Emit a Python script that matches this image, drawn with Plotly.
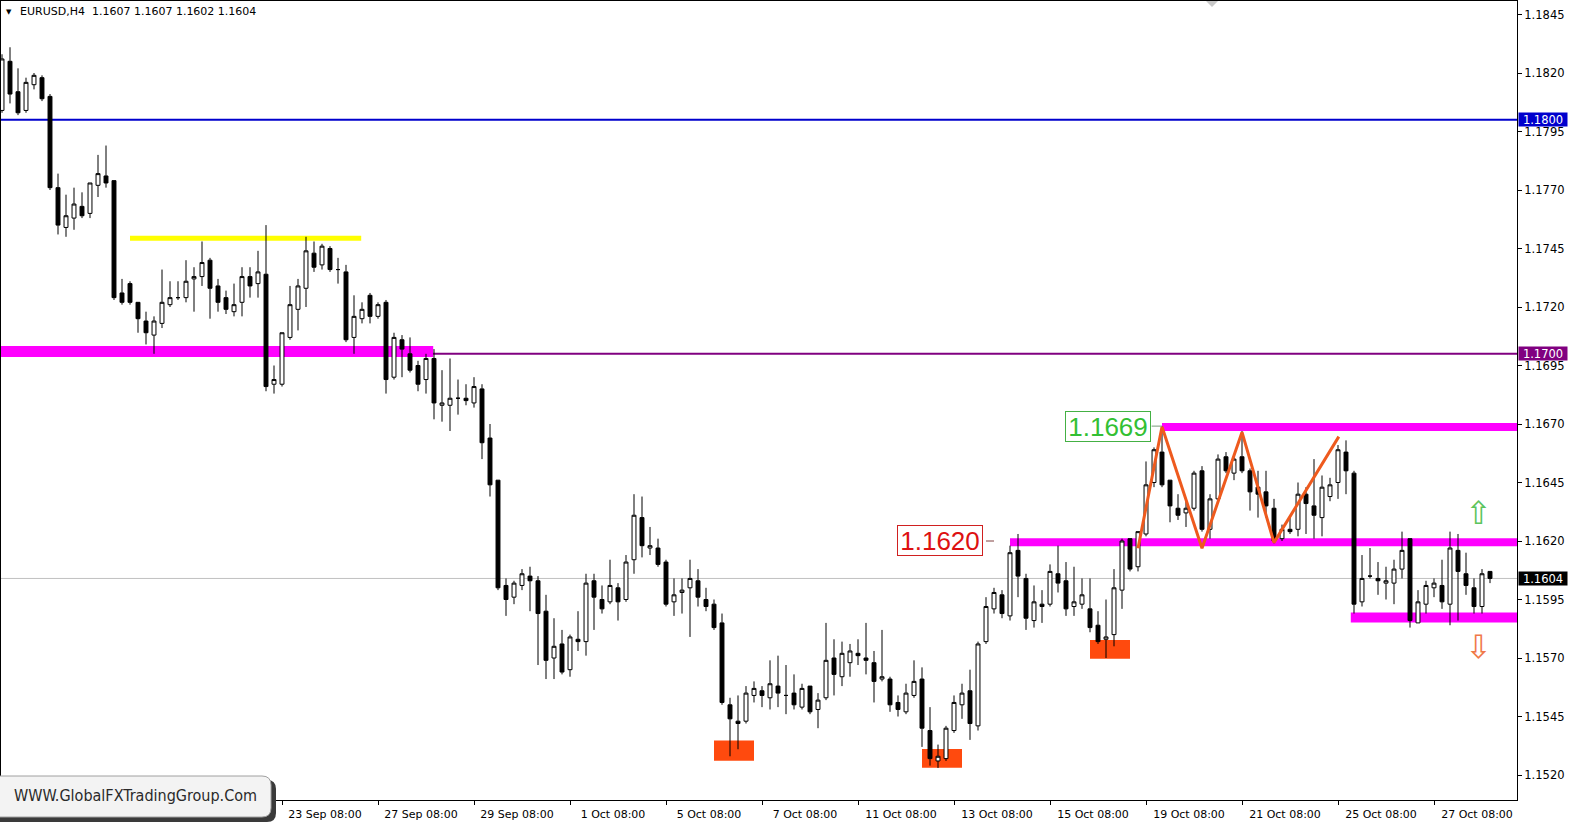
import plotly.graph_objects as go
import pandas as pd

# ---------------- data ----------------
header_text = "EURUSD,H4\u00a0\u00a01.1607 1.1607 1.1602 1.1604"
first_bar_time = "2021-09-15 12:00"

opens = [1.1804, 1.1825, 1.1812, 1.1804, 1.1815, 1.1818, 1.1810, 1.1771, 1.1754, 1.1758,
         1.1763, 1.1760, 1.1772, 1.1776, 1.1774, 1.1726, 1.1730, 1.1722, 1.1714, 1.1708,
         1.1713, 1.1721, 1.1724, 1.1724, 1.1732, 1.1733, 1.1740, 1.1729, 1.1724, 1.1718,
         1.1722, 1.1733, 1.1730, 1.1734, 1.1687, 1.1687, 1.1707, 1.1719, 1.1728, 1.1743,
         1.1738, 1.1745, 1.1736, 1.1735, 1.1707, 1.1715, 1.1725, 1.1716, 1.1722, 1.1690,
         1.1706, 1.1700, 1.1695, 1.1689, 1.1698, 1.1678, 1.1678, 1.1681, 1.1681, 1.1679,
         1.1685, 1.1664, 1.1646, 1.1601, 1.1596, 1.1601, 1.1605, 1.1603, 1.1590, 1.1570,
         1.1576, 1.1565, 1.1578, 1.1577, 1.1603, 1.1595, 1.1594, 1.1600, 1.1595, 1.1612,
         1.1630, 1.1617, 1.1617, 1.1611, 1.1594, 1.1598, 1.1600, 1.1603, 1.1595, 1.1593,
         1.1585, 1.1550, 1.1543, 1.1543, 1.1554, 1.1556, 1.1553, 1.1558, 1.1554, 1.1555,
         1.1549, 1.1558, 1.1548, 1.1553, 1.1570, 1.1562, 1.1568, 1.1572, 1.1570, 1.1568,
         1.1561, 1.1561, 1.1551, 1.1547, 1.1554, 1.1561, 1.1539, 1.1526, 1.1527, 1.1539,
         1.1550, 1.1556, 1.1541, 1.1577, 1.1591, 1.1597, 1.1588, 1.1616, 1.1604, 1.1586,
         1.1593, 1.1593, 1.1606, 1.1603, 1.1592, 1.1593, 1.1591, 1.1584, 1.1578, 1.1580,
         1.1599, 1.1621, 1.1609, 1.1623, 1.1645, 1.1658, 1.1646, 1.1634, 1.1632, 1.1634,
         1.1650, 1.1625, 1.1638, 1.1656, 1.1649, 1.1656, 1.1650, 1.1643, 1.1641, 1.1634,
         1.1621, 1.1625, 1.1625, 1.1640, 1.1635, 1.1630, 1.1639, 1.1645, 1.1658, 1.1649,
         1.1594, 1.1605, 1.1604, 1.1602, 1.1602, 1.1608, 1.1621, 1.1585, 1.1593, 1.1600,
         1.1601, 1.1593, 1.1616, 1.1606, 1.1600, 1.1592, 1.1607]
highs = [1.1828, 1.1831, 1.1822, 1.1818, 1.1820, 1.1819, 1.1811, 1.1777, 1.1768, 1.1771,
         1.1769, 1.1773, 1.1785, 1.1789, 1.1774, 1.1732, 1.1731, 1.1722, 1.1718, 1.1716,
         1.1736, 1.1731, 1.1731, 1.1740, 1.1737, 1.1748, 1.1741, 1.1732, 1.1727, 1.1730,
         1.1737, 1.1737, 1.1744, 1.1755, 1.1695, 1.1709, 1.1729, 1.1732, 1.1750, 1.1748,
         1.1747, 1.1746, 1.1741, 1.1738, 1.1725, 1.1722, 1.1726, 1.1722, 1.1723, 1.1709,
         1.1708, 1.1707, 1.1697, 1.1700, 1.1702, 1.1693, 1.1698, 1.1689, 1.1687, 1.1690,
         1.1687, 1.1670, 1.1646, 1.1604, 1.1603, 1.1608, 1.1609, 1.1605, 1.1597, 1.1587,
         1.1582, 1.1580, 1.1590, 1.1606, 1.1606, 1.1601, 1.1612, 1.1602, 1.1614, 1.1640,
         1.1639, 1.1626, 1.1621, 1.1612, 1.1604, 1.1604, 1.1612, 1.1608, 1.1600, 1.1595,
         1.1589, 1.1553, 1.1554, 1.1558, 1.1560, 1.1558, 1.1569, 1.1571, 1.1567, 1.1563,
         1.1559, 1.1558, 1.1555, 1.1585, 1.1578, 1.1577, 1.1576, 1.1578, 1.1585, 1.1573,
         1.1582, 1.1562, 1.1554, 1.1559, 1.1569, 1.1566, 1.1549, 1.1533, 1.1541, 1.1554,
         1.1559, 1.1565, 1.1577, 1.1596, 1.1600, 1.1599, 1.1618, 1.1623, 1.1606, 1.1601,
         1.1599, 1.1610, 1.1618, 1.1611, 1.1609, 1.1604, 1.1604, 1.1590, 1.1595, 1.1608,
         1.1621, 1.1621, 1.1624, 1.1654, 1.1660, 1.1669, 1.1646, 1.1640, 1.1637, 1.1650,
         1.1652, 1.1640, 1.1657, 1.1658, 1.1657, 1.1667, 1.1651, 1.1650, 1.1650, 1.1638,
         1.1627, 1.1631, 1.1645, 1.1643, 1.1655, 1.1648, 1.1647, 1.1661, 1.1663, 1.1650,
         1.1614, 1.1617, 1.1611, 1.1609, 1.1612, 1.1624, 1.1621, 1.1599, 1.1603, 1.1604,
         1.1612, 1.1624, 1.1623, 1.1615, 1.1604, 1.1608, 1.1607]
lows = [1.1803, 1.1807, 1.1802, 1.1803, 1.1813, 1.1808, 1.1770, 1.1751, 1.1750, 1.1753,
        1.1758, 1.1758, 1.1767, 1.1771, 1.1723, 1.1721, 1.1721, 1.1709, 1.1704, 1.1700,
        1.1711, 1.1720, 1.1723, 1.1722, 1.1718, 1.1729, 1.1715, 1.1718, 1.1717, 1.1716,
        1.1716, 1.1724, 1.1724, 1.1684, 1.1683, 1.1686, 1.1706, 1.1710, 1.1720, 1.1735,
        1.1736, 1.1735, 1.1730, 1.1705, 1.1700, 1.1713, 1.1713, 1.1715, 1.1683, 1.1689,
        1.1690, 1.1692, 1.1684, 1.1683, 1.1672, 1.1671, 1.1667, 1.1674, 1.1678, 1.1677,
        1.1655, 1.1639, 1.1599, 1.1588, 1.1593, 1.1599, 1.1590, 1.1567, 1.1561, 1.1561,
        1.1563, 1.1562, 1.1573, 1.1571, 1.1582, 1.1589, 1.1593, 1.1586, 1.1594, 1.1606,
        1.1613, 1.1614, 1.1609, 1.1592, 1.1588, 1.1589, 1.1579, 1.1592, 1.1590, 1.1582,
        1.1550, 1.1528, 1.1531, 1.1542, 1.1551, 1.1549, 1.1548, 1.1549, 1.1546, 1.1548,
        1.1548, 1.1546, 1.1540, 1.1552, 1.1554, 1.1558, 1.1562, 1.1567, 1.1563, 1.1551,
        1.1560, 1.1547, 1.1545, 1.1546, 1.1553, 1.1532, 1.1524, 1.1523, 1.1526, 1.1538,
        1.1544, 1.1535, 1.1539, 1.1576, 1.1589, 1.1587, 1.1586, 1.1596, 1.1582, 1.1583,
        1.1585, 1.1592, 1.1598, 1.1588, 1.1588, 1.1591, 1.1581, 1.1576, 1.1570, 1.1575,
        1.1591, 1.1607, 1.1607, 1.1622, 1.1643, 1.1643, 1.1628, 1.1629, 1.1626, 1.1633,
        1.1624, 1.1621, 1.1637, 1.1649, 1.1646, 1.1649, 1.1633, 1.1630, 1.1630, 1.1619,
        1.1620, 1.1623, 1.1622, 1.1623, 1.1621, 1.1622, 1.1637, 1.1638, 1.1640, 1.1589,
        1.1592, 1.1604, 1.1597, 1.1595, 1.1593, 1.1604, 1.1583, 1.1585, 1.1589, 1.1596,
        1.1591, 1.1584, 1.1586, 1.1597, 1.1589, 1.1589, 1.1602]
closes = [1.1826, 1.1811, 1.1803, 1.1816, 1.1819, 1.1809, 1.1771, 1.1755, 1.1759, 1.1764,
          1.1759, 1.1773, 1.1777, 1.1773, 1.1724, 1.1722, 1.1722, 1.1715, 1.1709, 1.1714,
          1.1722, 1.1724, 1.1724, 1.1731, 1.1733, 1.1739, 1.1728, 1.1722, 1.1719, 1.1721,
          1.1733, 1.1729, 1.1735, 1.1686, 1.1689, 1.1709, 1.1721, 1.1729, 1.1744, 1.1737,
          1.1746, 1.1736, 1.1736, 1.1706, 1.1716, 1.1719, 1.1716, 1.1721, 1.1689, 1.1707,
          1.1702, 1.1693, 1.1687, 1.1698, 1.1679, 1.1679, 1.1681, 1.1681, 1.1680, 1.1686,
          1.1662, 1.1644, 1.1600, 1.1595, 1.1602, 1.1606, 1.1603, 1.1589, 1.1569, 1.1575,
          1.1564, 1.1579, 1.1577, 1.1602, 1.1596, 1.1591, 1.1601, 1.1594, 1.1611, 1.1631,
          1.1618, 1.1618, 1.1610, 1.1593, 1.1597, 1.1599, 1.1604, 1.1596, 1.1592, 1.1583,
          1.1551, 1.1544, 1.1542, 1.1555, 1.1557, 1.1554, 1.1559, 1.1555, 1.1554, 1.1550,
          1.1557, 1.1547, 1.1552, 1.1569, 1.1563, 1.1572, 1.1573, 1.1571, 1.1569, 1.1560,
          1.1562, 1.1550, 1.1548, 1.1555, 1.1560, 1.1540, 1.1527, 1.1528, 1.1540, 1.1551,
          1.1555, 1.1542, 1.1576, 1.1592, 1.1598, 1.1589, 1.1615, 1.1605, 1.1587, 1.1594,
          1.1592, 1.1607, 1.1602, 1.1591, 1.1594, 1.1597, 1.1583, 1.1577, 1.1579, 1.1600,
          1.1620, 1.1608, 1.1624, 1.1644, 1.1659, 1.1644, 1.1635, 1.1631, 1.1634, 1.1649,
          1.1625, 1.1638, 1.1655, 1.1650, 1.1655, 1.1650, 1.1641, 1.1640, 1.1635, 1.1620,
          1.1625, 1.1624, 1.1640, 1.1636, 1.1631, 1.1643, 1.1644, 1.1659, 1.1650, 1.1593,
          1.1604, 1.1605, 1.1603, 1.1603, 1.1608, 1.1616, 1.1586, 1.1594, 1.1601, 1.1602,
          1.1594, 1.1617, 1.1607, 1.1601, 1.1592, 1.1606, 1.1604]

time_labels = ["23 Sep 08:00", "27 Sep 08:00", "29 Sep 08:00", "1 Oct 08:00",
               "5 Oct 08:00", "7 Oct 08:00", "11 Oct 08:00", "13 Oct 08:00",
               "15 Oct 08:00", "19 Oct 08:00", "21 Oct 08:00", "25 Oct 08:00",
               "27 Oct 08:00"]
price_ticks = [1.1520, 1.1545, 1.1570, 1.1595, 1.1620, 1.1645, 1.1670, 1.1695,
               1.1720, 1.1745, 1.1770, 1.1795, 1.1820, 1.1845]

level_blue = 1.1800
level_purple = 1.1700
last_price = 1.1604

# magenta zones: price, first bar, last bar
zone_prices = [1.17010, 1.16687, 1.16195, 1.15873]
zone_start = [-0.125, 145.0, 126.0, 168.6]
zone_end = [53.9, 189.4, 189.4, 189.4]
# yellow resistance segment
yellow_price = 1.17494
yellow_start, yellow_end = 16.0, 44.9
# orange boxes: bar from, bar to, low, high
box_x0 = [89.0, 115.0, 136.0]
box_x1 = [94.0, 120.0, 141.0]
box_lo = [1.15261, 1.15231, 1.15697]
box_hi = [1.15347, 1.15311, 1.15777]
# zigzag
zz_bars = [142.0, 145.0, 150.0, 155.0, 159.0, 167.1]
zz_prices = [1.16169, 1.16688, 1.16169, 1.16665, 1.16193, 1.16646]

# ---------------- build ----------------
n = len(opens)
times = []
t = pd.Timestamp(first_bar_time)
while len(times) < n:
    if t.weekday() < 5:
        times.append(t)
    t += pd.Timedelta(hours=4)
bar_label = [f"{tt.day} {tt.strftime('%b %H:%M')}" for tt in times]
tick_idx = [bar_label.index(lbl) for lbl in time_labels]
xs = list(range(n))

W, H = 1571, 822
ML, MR, MT, MB = 1, 54, 1, 22
PW, PH = W - ML - MR, H - MT - MB
X0, X1 = -0.125, -0.125 + PW / 8.0
PPU = 23400.0
Y1 = 1.1620 + (541 - MT) / PPU
Y0 = 1.1620 - (MT + PH - 541) / PPU


def px(x):
    return (x - ML) / PW


def py(y):
    return (MT + PH - y) / PH


fig = go.Figure()
fig.add_trace(go.Candlestick(
    x=xs, open=opens, high=highs, low=lows, close=closes,
    increasing=dict(line=dict(color="black", width=1), fillcolor="white"),
    decreasing=dict(line=dict(color="black", width=1), fillcolor="black"),
    whiskerwidth=0, showlegend=False, hoverinfo="skip"))

fig.add_trace(go.Scatter(x=zz_bars, y=zz_prices, mode="lines",
                         line=dict(color="#EE5A1E", width=3),
                         showlegend=False, hoverinfo="skip"))

shapes = []
shapes.append(dict(type="line", xref="paper", x0=0, x1=1, yref="y",
                   y0=last_price, y1=last_price,
                   line=dict(color="#C0C0C0", width=1), layer="below"))
for a, b, lo, hi in zip(box_x0, box_x1, box_lo, box_hi):
    shapes.append(dict(type="rect", xref="x", yref="y", x0=a, x1=b, y0=lo, y1=hi,
                       fillcolor="#FF4A0E", line=dict(width=0), layer="below"))
zone_w = [11, 8, 8, 10]
for p, a, b, w in zip(zone_prices, zone_start, zone_end, zone_w):
    shapes.append(dict(type="line", xref="x", yref="y", x0=a, x1=b, y0=p, y1=p,
                       line=dict(color="#FF00FF", width=w), layer="below"))
shapes.append(dict(type="line", xref="x", yref="y", x0=yellow_start, x1=yellow_end,
                   y0=yellow_price, y1=yellow_price,
                   line=dict(color="#FFFF00", width=5), layer="below"))
shapes.append(dict(type="line", xref="paper", x0=0, x1=1, yref="y",
                   y0=level_blue, y1=level_blue,
                   line=dict(color="#0000CD", width=2), layer="below"))
shapes.append(dict(type="line", xref="paper", x0=0, x1=1, yref="y",
                   y0=level_purple, y1=level_purple,
                   line=dict(color="#800080", width=2), layer="below"))
shapes.append(dict(type="line", xref="x", yref="y", x0=143.7, x1=145.0,
                   y0=1.16691, y1=1.16691, line=dict(color="#7A9A7A", width=1)))
shapes.append(dict(type="line", xref="x", yref="y", x0=123.0, x1=124.0,
                   y0=1.16200, y1=1.16200, line=dict(color="#804040", width=1)))
shapes.append(dict(type="path", xref="paper", yref="paper",
                   path=f"M {px(1206)},{py(1)} L {px(1218)},{py(1)} L {px(1212)},{py(7)} Z",
                   fillcolor="#C8C8C8", line=dict(width=0), layer="above"))


def rounded(x0, y0, x1, y1, r):
    return (f"M {px(x0)},{py(y0)} L {px(x1 - r)},{py(y0)} "
            f"Q {px(x1)},{py(y0)} {px(x1)},{py(y0 + r)} "
            f"L {px(x1)},{py(y1 - r)} Q {px(x1)},{py(y1)} {px(x1 - r)},{py(y1)} "
            f"L {px(x0)},{py(y1)} Z")


shapes.append(dict(type="path", xref="paper", yref="paper",
                   path=rounded(-4, 780, 276, 822, 9),
                   fillcolor="#3A3A3A", line=dict(width=0), layer="above"))
shapes.append(dict(type="path", xref="paper", yref="paper",
                   path=rounded(-4, 776, 271, 817, 9),
                   fillcolor="#F3F3F3", line=dict(color="#A0A0A0", width=1), layer="above"))

annotations = []
annotations.append(dict(xref="paper", yref="paper", x=px(4), y=py(12), xanchor="left",
                        yanchor="middle", text="\u25BC", showarrow=False,
                        font=dict(family="DejaVu Sans", size=7, color="black")))
annotations.append(dict(xref="paper", yref="paper", x=px(18), y=py(12), xanchor="left",
                        yanchor="middle", text=header_text, showarrow=False,
                        font=dict(family="DejaVu Sans", size=11, color="black")))
for p, bg in [(level_blue, "#0000CD"), (level_purple, "#800080"), (last_price, "#000000")]:
    annotations.append(dict(xref="paper", yref="y", x=1, y=p, xanchor="left",
                            yanchor="middle", text=f"{p:.4f}", showarrow=False,
                            bgcolor=bg, width=48, height=13, borderpad=0, xshift=1,
                            font=dict(family="DejaVu Sans", size=11.5, color="white")))
annotations.append(dict(xref="x", yref="y", x=138.25, y=1.16691, text="1.1669",
                        showarrow=False, bgcolor="white", bordercolor="#44B044",
                        borderwidth=1, borderpad=0, width=84, height=29,
                        font=dict(family="Liberation Sans", size=26, color="#33C033")))
annotations.append(dict(xref="x", yref="y", x=117.3, y=1.16204, text="1.1620",
                        showarrow=False, bgcolor="white", bordercolor="#D02020",
                        borderwidth=1, borderpad=0, width=84, height=29,
                        font=dict(family="Liberation Sans", size=26, color="#DD1111")))
annotations.append(dict(xref="x", yref="y", x=184.5, y=1.16320, text="\u21E7",
                        showarrow=False,
                        font=dict(family="DejaVu Sans", size=32, color="#5CC45C")))
annotations.append(dict(xref="x", yref="y", x=184.5, y=1.15747, text="\u21E9",
                        showarrow=False,
                        font=dict(family="DejaVu Sans", size=32, color="#F07848")))
annotations.append(dict(xref="paper", yref="paper", x=px(135), y=py(795),
                        xanchor="center", yanchor="middle",
                        text="WWW.GlobalFXTradingGroup.Com", showarrow=False,
                        font=dict(family="Liberation Sans Narrow, DejaVu Sans Condensed",
                                  size=16, color="#2A2A2A")))

fig.update_layout(
    width=W, height=H,
    margin=dict(l=ML, r=MR, t=MT, b=MB, pad=0),
    paper_bgcolor="white", plot_bgcolor="white",
    showlegend=False,
    shapes=shapes, annotations=annotations,
    xaxis=dict(range=[X0, X1], tickmode="array", tickvals=tick_idx, ticktext=time_labels,
               ticks="outside", ticklen=4, tickcolor="black", ticklabelshift=43,
               showline=True, linecolor="black", linewidth=1, mirror=True,
               showgrid=False, zeroline=False, automargin=False,
               rangeslider=dict(visible=False), fixedrange=True,
               tickfont=dict(family="DejaVu Sans", size=11, color="black")),
    yaxis=dict(range=[Y0, Y1], side="right", tickmode="array", tickvals=price_ticks,
               ticktext=[f"{v:.4f}" for v in price_ticks],
               ticks="outside", ticklen=4, tickcolor="black",
               showline=True, linecolor="black", linewidth=1, mirror=True,
               showgrid=False, zeroline=False, automargin=False, fixedrange=True,
               tickfont=dict(family="DejaVu Sans", size=11.5, color="black")),
)

fig.write_html("out.html", config={"displayModeBar": False},
               post_script="document.body.style.margin='0';document.body.style.overflow='hidden';")
